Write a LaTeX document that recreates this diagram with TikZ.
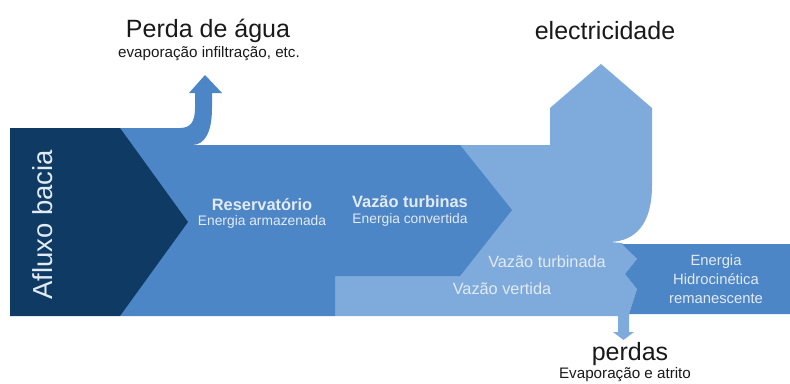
\documentclass[tikz,border=0pt]{standalone}
\usepackage{fontspec}
\setmainfont{Liberation Sans}
\usepackage{xcolor}

\definecolor{navy}{HTML}{0E3A63}
\definecolor{midblue}{HTML}{4D86C6}
\definecolor{lightblue}{HTML}{7EABDB}
\definecolor{paletext}{HTML}{E2EAF4}

\begin{document}
\begin{tikzpicture}[
  x=1pt, y=-1pt,
  outlbl/.style={text=black!90, anchor=base, inner sep=0pt, font=\fontsize{25}{30}\selectfont},
  outsub/.style={text=black!90, anchor=base, inner sep=0pt, font=\fontsize{15.2}{18}\selectfont},
  flowttl/.style={text=paletext, anchor=base, inner sep=0pt, font=\bfseries\fontsize{16.4}{20}\selectfont},
  flowsub/.style={text=paletext, anchor=base, inner sep=0pt, font=\fontsize{13.8}{16}\selectfont},
  flowlbl/.style={text=paletext, anchor=base, inner sep=0pt, font=\fontsize{16.3}{20}\selectfont},
  restlbl/.style={text=paletext, anchor=base, inner sep=0pt, font=\fontsize{14.8}{18}\selectfont},
]
\useasboundingbox (0,0) rectangle (790,383);
% light flow, outlet to electricidade
\fill[lightblue] (335,272) -- (460,272) -- (460,145) -- (550,145) -- (550,108) -- (601,64) -- (652,108) -- (652,185)
  .. controls (652,225) and (635,241) .. (610,242) -- (622,243) -- (637,259) -- (625,274) -- (637,289) -- (629,314)
  -- (629,316) -- (335,316) -- cycle;
% perdas arrow
\fill[lightblue] (618,315) -- (629,315) -- (629,332) -- (634,332) -- (623.5,340) -- (613,332) -- (618,332) -- cycle;
% reservoir / turbines
\fill[midblue] (120,128) -- (180,128) .. controls (191,128) and (195,121) .. (195,108) -- (195,93) -- (189,93)
  -- (205,75) -- (222,93) -- (212,93) -- (212,108) .. controls (212,132) and (205,145) .. (192,145)
  -- (460,145) -- (512,210) -- (460,276) -- (335,276) -- (335,316) -- (120,316) -- cycle;
% remaining energy
\fill[midblue] (622,244) -- (790,244) -- (790,314) -- (629,314) -- (637,289) -- (625,274) -- (637,259) -- cycle;
% inflow
\fill[navy] (10,128) -- (120,128) -- (188,222) -- (120,316) -- (10,316) -- cycle;

\node[outlbl] (perda) at (208,37) {Perda de água};
\node[outsub] (perdasub) at (209,57) {evaporação infiltração, etc.};
\node[outlbl] (elec) at (605,39) {electricidade};
\node[text=paletext, anchor=base, inner sep=0pt, rotate=90, font=\fontsize{27.5}{32}\selectfont] (aflux) at (52,225) {Afluxo bacia};
\node[flowttl] (res) at (262,210) {Reservatório};
\node[flowsub] (ressub) at (262,225) {Energia armazenada};
\node[flowttl] (turb) at (410,207) {Vazão turbinas};
\node[flowsub] (turbsub) at (410,223) {Energia convertida};
\node[flowlbl] (turbd) at (547,267) {Vazão turbinada};
\node[flowlbl] (vert) at (502,294) {Vazão vertida};
\node[restlbl] (rem1) at (716,265) {Energia};
\node[restlbl] (rem2) at (716,284) {Hidrocinética};
\node[restlbl] (rem3) at (716,303) {remanescente};
\node[outlbl] (perdas) at (630,360) {perdas};
\node[outsub] (perdsub) at (625,378) {Evaporação e atrito};
\end{tikzpicture}
\end{document}
